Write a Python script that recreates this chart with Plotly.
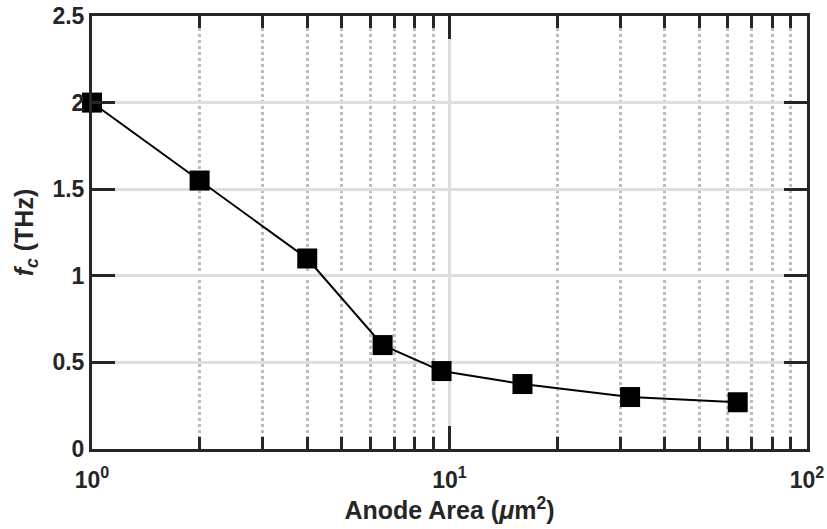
import plotly.graph_objects as go

anode_area = [1, 2, 4, 6.5, 9.5, 16, 32, 64]
fc_thz = [2.0, 1.55, 1.1, 0.6, 0.45, 0.375, 0.3, 0.27]

x_tickvals = [1, 10, 100]
x_ticktext = ["10<sup>0</sup>", "10<sup>1</sup>", "10<sup>2</sup>"]
x_minor = [2, 3, 4, 5, 6, 7, 8, 9, 20, 30, 40, 50, 60, 70, 80, 90]
y_tickvals = [0, 0.5, 1, 1.5, 2, 2.5]
y_ticktext = ["0", "0.5", "1", "1.5", "2", "2.5"]

dark = "#262626"
font = dict(family="Liberation Sans, Arial, sans-serif", size=23, color=dark, weight="bold")
tfont = dict(family="Liberation Sans, Arial, sans-serif", size=25, color=dark, weight="bold")

fig = go.Figure()
fig.add_trace(go.Scatter(
    x=anode_area, y=fc_thz, mode="lines+markers",
    line=dict(color="black", width=2),
    marker=dict(symbol="square", size=20, color="black"),
    cliponaxis=False, showlegend=False,
))

fig.update_layout(
    width=827, height=529,
    margin=dict(l=92, r=20, t=16, b=80),
    plot_bgcolor="white", paper_bgcolor="white",
    font=font,
    xaxis=dict(
        type="log", range=[0, 2], automargin=False,
        tickmode="array", tickvals=x_tickvals, ticktext=x_ticktext,
        ticks="inside", ticklen=23, tickwidth=3, tickcolor=dark,
        showline=True, linecolor=dark, linewidth=3, mirror="ticks",
        showgrid=True, gridcolor="#dedede", gridwidth=2.5,
        zeroline=False, ticklabelstandoff=8,
        minor=dict(tickmode="array", tickvals=x_minor, ticks="inside",
                   ticklen=12, tickwidth=3, tickcolor=dark,
                   showgrid=True, gridcolor="#bdbdbd", gridwidth=2.5, griddash="dot"),
        title=dict(text="Anode Area (<i>μ</i>m<sup>2</sup>)", font=tfont, standoff=10),
        tickfont=font,
    ),
    xaxis2=dict(
        type="log", range=[0, 2], overlaying="x", side="top", automargin=False,
        tickmode="array", tickvals=x_tickvals, showticklabels=False,
        ticks="inside", ticklen=23, tickwidth=3, tickcolor=dark,
        showgrid=False, zeroline=False, showline=False,
        minor=dict(tickmode="array", tickvals=x_minor, ticks="inside",
                   ticklen=12, tickwidth=3, tickcolor=dark, showgrid=False),
    ),
    yaxis=dict(
        range=[0, 2.5], automargin=False,
        tickmode="array", tickvals=y_tickvals, ticktext=y_ticktext,
        ticks="inside", ticklen=23, tickwidth=3, tickcolor=dark,
        showline=True, linecolor=dark, linewidth=3, mirror="ticks",
        showgrid=True, gridcolor="#dedede", gridwidth=2.5,
        zeroline=False,
        title=dict(text="<i>f<sub>c</sub></i> (THz)", font=tfont, standoff=12),
        tickfont=font,
    ),
)

fig.write_html("out.html")
